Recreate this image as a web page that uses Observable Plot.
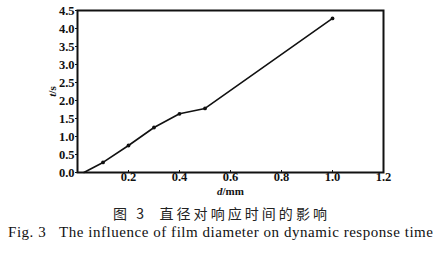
<!DOCTYPE html>
<html><head><meta charset="utf-8">
<script src="https://cdn.jsdelivr.net/npm/d3@7"></script>
<script src="https://cdn.jsdelivr.net/npm/@observablehq/plot@0.6"></script>
<style>
body{margin:0;background:#fff;}
.cap{white-space:nowrap;position:relative;}
#cap1{font-family:"Noto Sans CJK SC",serif;font-size:14px;margin-top:6px;height:18px;line-height:18px;color:#222;}
#cap2{font-family:"Liberation Serif",serif;font-size:15px;height:20px;line-height:20px;color:#111;}
.cap span{position:absolute;top:0;}
</style></head>
<body>
<div id="chart"></div>
<div id="cap1" class="cap"><span>图 3&nbsp;&nbsp;直径对响应时间的影响</span></div>
<div id="cap2" class="cap"><span>Fig. 3&nbsp;&nbsp;&nbsp;The influence of film diameter on dynamic response time</span></div>
<script>
const diameter = [0.025, 0.1, 0.2, 0.3, 0.4, 0.5, 1.0];
const time = [0, 0.28, 0.75, 1.25, 1.63, 1.78, 4.28];
const markers = [false, true, true, true, true, true, true];
const xTicks = [0.0, 0.2, 0.4, 0.6, 0.8, 1.0, 1.2];
const yTicks = [0.0, 0.5, 1.0, 1.5, 2.0, 2.5, 3.0, 3.5, 4.0, 4.5];

const data = diameter.map((d, i) => ({d, t: time[i], m: markers[i]}));
const f1 = d3.format(".1f");

const plot = Plot.plot({
  width: 437,
  height: 198,
  marginLeft: 77,
  marginRight: 54,
  marginTop: 10,
  marginBottom: 26,
  style: {fontFamily: "Liberation Serif, serif", fontSize: "12.5px", fontWeight: "bold", color: "#111"},
  x: {domain: [0, 1.2], label: null},
  y: {domain: [0, 4.5], label: null},
  marks: [
    Plot.frame({stroke: "#111", strokeWidth: 2}),
    Plot.axisX({ticks: xTicks, tickFormat: d => d === 0 ? "" : f1(d), tickSize: 2, tickPadding: 0, dy: -2, label: null, fontWeight: "bold", fontSize: 12.5}),
    Plot.axisY({ticks: yTicks, tickFormat: f1, tickSize: 2, tickPadding: 1, label: null, fontWeight: "bold", fontSize: 12.5}),
    Plot.axisX({ticks: [], label: "d/mm", labelAnchor: "center", labelArrow: "none", labelOffset: 22, fontWeight: "bold", fontSize: 11}),
    Plot.axisY({ticks: [], label: "t/s", labelAnchor: "center", labelArrow: "none", labelOffset: 29, fontWeight: "bold", fontSize: 11}),
    Plot.line(data, {x: "d", y: "t", stroke: "#111", strokeWidth: 1.6}),
    Plot.dot(data.filter(r => r.m), {x: "d", y: "t", r: 1.9, fill: "#111", stroke: "none"})
  ]
});
// italic variable letters in axis labels
plot.querySelectorAll("text").forEach(t => {
  const s = t.textContent;
  if (s === "d/mm" || s === "t/s") {
    const [v, u] = s.split("/");
    t.textContent = "";
    const a = document.createElementNS("http://www.w3.org/2000/svg", "tspan");
    a.setAttribute("font-style", "italic"); a.textContent = v;
    const b = document.createElementNS("http://www.w3.org/2000/svg", "tspan");
    b.textContent = "/" + u;
    t.appendChild(a); t.appendChild(b);
  }
});
document.getElementById("chart").appendChild(plot);

// fit captions to the reference's horizontal extent
function fit(id, left, right) {
  const s = document.querySelector("#" + id + " span");
  s.style.left = left + "px";
  const n = s.textContent.length;
  const w = s.getBoundingClientRect().width;
  s.style.letterSpacing = ((right - left - w) / (n - 1)) + "px";
}
fit("cap1", 113, 327);
fit("cap2", 8, 433);
</script>
</body></html>
